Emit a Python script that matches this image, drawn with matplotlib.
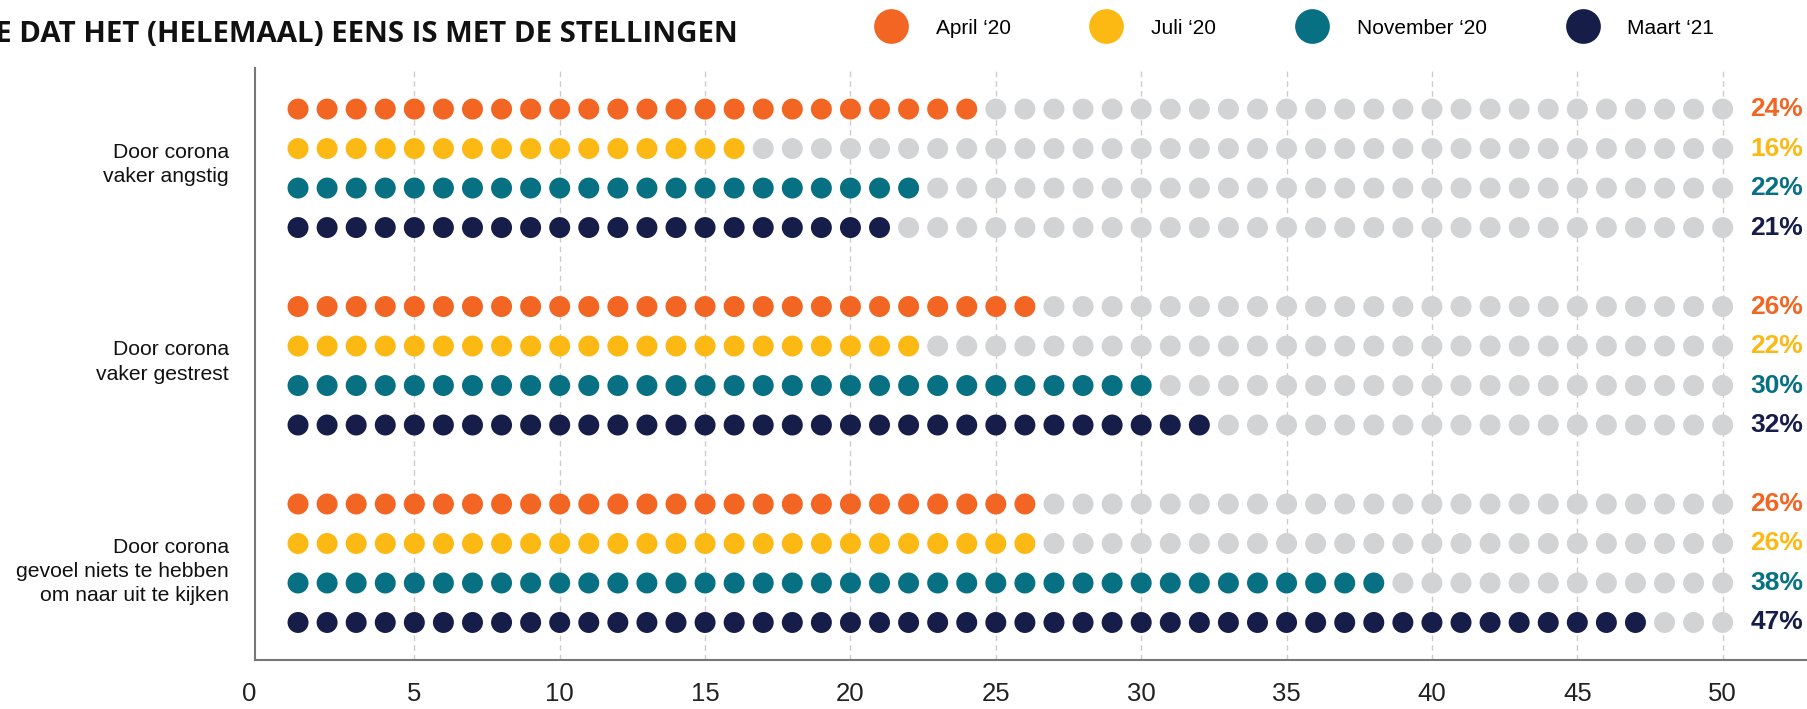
import matplotlib.pyplot as plt
from matplotlib.lines import Line2D
from matplotlib.transforms import blended_transform_factory, ScaledTranslation

plt.rcParams['font.family'] = ['Liberation Sans', 'DejaVu Sans']

# data
statements = ["Door corona\nvaker angstig",
              "Door corona\nvaker gestrest",
              "Door corona\ngevoel niets te hebben\nom naar uit te kijken"]
waves = ["April \u201820", "Juli \u201820", "November \u201820", "Maart \u201821"]
colors = ["#F26522", "#FDB913", "#077183", "#161D49"]
april = [24, 26, 26]
juli = [16, 22, 26]
november = [22, 30, 38]
maart = [21, 32, 47]
n_dots = 50

series = [april, juli, november, maart]
grey = "#D2D3D5"

fig = plt.figure(figsize=(18.07, 7.09), dpi=100)
ax = fig.add_axes([255 / 1807, 1 - 660 / 709, 1552 / 1807, (660 - 68) / 709])

for g, label in enumerate(statements):
    for w, vals in enumerate(series):
        y = g * 5 + w
        xs = list(range(1, n_dots + 1))
        cols = [colors[w] if x <= vals[g] else grey for x in xs]
        ax.scatter(xs, [y] * n_dots, s=15.1 ** 2, c=cols, linewidths=0, zorder=3)
        ax.text(n_dots + 0.95, y, f"{vals[g]}%", color=colors[w], fontsize=19,
                fontweight='bold', ha='left', va='center')

trans = blended_transform_factory(ax.transAxes, ax.transData)
for g, label in enumerate(statements):
    ax.text(-0.0168, g * 5 + 0.85, label, transform=trans, ha='right', va='top',
            fontsize=15.2, color='#111111', linespacing=1.36)

ax.set_xlim(-0.48, 52.9)
ax.set_ylim(13.95, -1.04)
ax.set_xticks(range(0, 51, 5))
ax.tick_params(axis='x', length=0, pad=16, labelsize=18.5, labelcolor='#222222')
# the "0" label sits a little left of the zero line in the original
lab0 = ax.xaxis.get_major_ticks()[0].label1
lab0.set_transform(lab0.get_transform() + ScaledTranslation(-0.2, 0, fig.dpi_scale_trans))
ax.set_yticks([])
for x in range(5, 51, 5):
    ax.axvline(x, color='#CCCCCC', lw=1, ls=(0, (4, 3)), zorder=1)
for s in ['top', 'right']:
    ax.spines[s].set_visible(False)
for s in ['left', 'bottom']:
    ax.spines[s].set_color('#777777')
    ax.spines[s].set_linewidth(1.5)

handles = [Line2D([], [], ls='none', marker='o', markersize=25, color=c, markeredgewidth=0)
           for c in colors]
fig.legend(handles, waves, loc='center left', bbox_to_anchor=(0.4843, 0.9605),
           ncol=4, frameon=False, fontsize=15, handlelength=1.5, handletextpad=1.4,
           columnspacing=3.85, borderpad=0, borderaxespad=0)

fig.text(738 / 1807, 1 - 34 / 709,
         "PERCENTAGE DAT HET (HELEMAAL) EENS IS MET DE STELLINGEN",
         ha='right', va='center', fontsize=21.2, fontweight='bold',
         family=['Open Sans', 'DejaVu Sans'], color='#111111')

fig.savefig("out.png", dpi=100)
